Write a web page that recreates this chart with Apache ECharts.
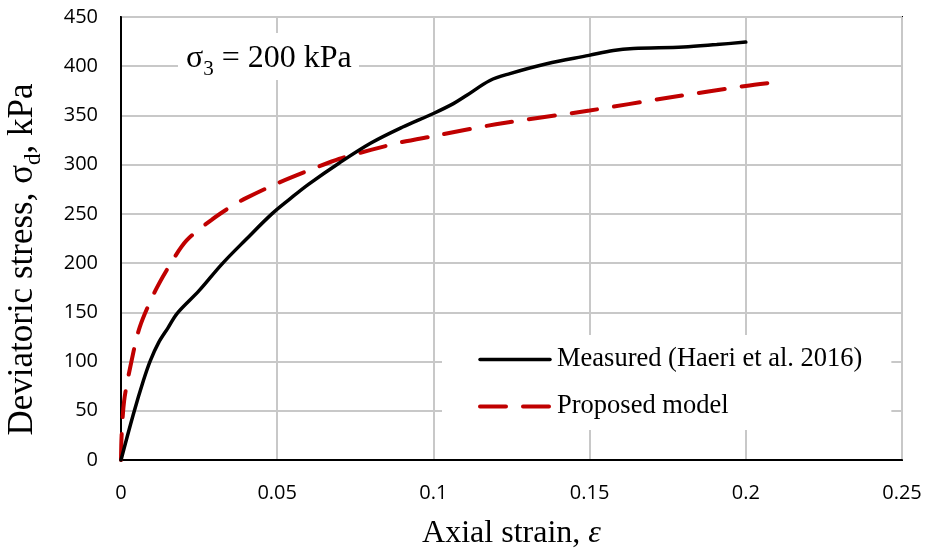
<!DOCTYPE html>
<html>
<head>
<meta charset="utf-8">
<script src="https://cdn.jsdelivr.net/npm/echarts@6/dist/echarts.min.js"></script>
<style>
  html, body { margin: 0; padding: 0; background: #fff; }
  #chart { width: 927px; height: 552px; }
</style>
</head>
<body>
<div id="chart"></div>
<script>
// Axis ticks
const xTickLabels = ['0', '0.05', '0.1', '0.15', '0.2', '0.25'];
const yTickLabels = ['0', '50', '100', '150', '200', '250', '300', '350', '400', '450'];

// Measured triaxial response (Haeri et al. 2016), sigma3 = 200 kPa
const measuredStrain = [0, 0.004, 0.0072, 0.0094, 0.012, 0.015, 0.018, 0.025, 0.0323, 0.04, 0.0483, 0.054, 0.06, 0.07, 0.08, 0.09, 0.1, 0.1064, 0.1107, 0.1181, 0.1245, 0.1363, 0.1498, 0.1576, 0.164, 0.18, 0.1907, 0.2];
const measuredStress = [0, 47, 81, 101, 119, 134, 149, 172, 199, 224, 250, 265, 280, 302, 322, 338, 352, 362, 370.5, 385.5, 392.5, 402.5, 411, 416, 418, 419.5, 422, 424.5];

// Proposed model prediction
const modelStrain = [0, 0.0002, 0.001, 0.003, 0.006, 0.011, 0.016, 0.021, 0.029, 0.036, 0.04, 0.05, 0.06, 0.07, 0.08, 0.09, 0.1, 0.12, 0.15, 0.175, 0.2, 0.21];
const modelStress = [0, 25, 60, 95, 135, 172, 200, 223, 244, 259, 266, 281, 294, 306, 315, 323, 329, 341, 355, 368, 380, 384];

const seriesNames = ['Measured (Haeri et al. 2016)', 'Proposed model'];

const pair = (xs, ys) => xs.map((x, i) => [x, ys[i]]);

const serif = '"Liberation Serif", "Times New Roman", serif';
const sans = '"Open Sans", "Liberation Sans", sans-serif';

const xVals = xTickLabels.map(Number);
const yVals = yTickLabels.map(Number);

const measuredLine = { color: '#000', width: 3.5, cap: 'round' };
const modelLine = { color: '#c00000', width: 4, type: [26, 17], cap: 'round' };

const chart = echarts.init(document.getElementById('chart'), null, { renderer: 'canvas' });

chart.setOption({
  animation: false,
  backgroundColor: '#fff',
  grid: {
    left: 121, top: 17, right: 25, bottom: 92,
    outerBoundsMode: 'none', containLabel: false,
    show: true, borderColor: '#000', borderWidth: 2, backgroundColor: 'transparent'
  },
  xAxis: {
    type: 'value',
    min: xVals[0], max: xVals[xVals.length - 1], interval: xVals[1] - xVals[0],
    axisLine: { show: true, lineStyle: { color: '#000', width: 2 } },
    axisTick: { show: false },
    axisLabel: {
      margin: 23, color: '#000', fontFamily: sans, fontSize: 20,
      formatter: (v) => xTickLabels[Math.round((v - xVals[0]) / (xVals[1] - xVals[0]))] ?? ''
    },
    splitLine: { show: true, lineStyle: { color: '#c8c8c8', width: 2 } },
    name: 'Axial strain, {e|ε}',
    nameLocation: 'middle',
    nameGap: 58,
    nameTextStyle: {
      fontFamily: serif, fontSize: 32, color: '#000',
      rich: { e: { fontFamily: serif, fontSize: 32, fontStyle: 'italic', color: '#000' } }
    }
  },
  yAxis: {
    type: 'value',
    min: yVals[0], max: yVals[yVals.length - 1], interval: yVals[1] - yVals[0],
    axisLine: { show: true, lineStyle: { color: '#000', width: 2 } },
    axisTick: { show: false },
    axisLabel: {
      margin: 23, color: '#000', fontFamily: sans, fontSize: 20,
      formatter: (v) => yTickLabels[Math.round((v - yVals[0]) / (yVals[1] - yVals[0]))] ?? ''
    },
    splitLine: { show: true, lineStyle: { color: '#c8c8c8', width: 2 } },
    name: '{a|Deviatoric stress, σ}{s|d}{a|, kPa}',
    nameLocation: 'middle',
    nameRotate: 90,
    nameGap: 76,
    nameTextStyle: {
      padding: [0, 42, 0, 0],
      rich: {
        a: { fontFamily: serif, fontSize: 35, color: '#000', lineHeight: 44, verticalAlign: 'middle' },
        s: { fontFamily: serif, fontSize: 23, color: '#000', lineHeight: 23, verticalAlign: 'bottom' }
      }
    }
  },
  legend: {
    data: [
      { name: seriesNames[0], lineStyle: measuredLine },
      { name: seriesNames[1], lineStyle: modelLine }
    ],
    orient: 'vertical',
    left: 442, top: 335,
    backgroundColor: '#fff',
    padding: [11, 29, 10, 36],
    itemWidth: 70, itemHeight: 14, itemGap: 20,
    itemStyle: { opacity: 0 },
    textStyle: { fontFamily: serif, fontSize: 26.5, color: '#000', lineHeight: 26, padding: [0, 0, 0, 2] }
  },
  graphic: [
    {
      type: 'rect', z: 100,
      shape: { x: 178, y: 33, width: 181, height: 47 },
      style: { fill: '#fff' }
    },
    {
      type: 'text', z: 101, x: 186, y: 59,
      style: {
        text: '{a|σ}{s|3}{a| = 200 kPa}',
        verticalAlign: 'middle', align: 'left',
        rich: {
          a: { fontFamily: serif, fontSize: 32, fill: '#000', lineHeight: 42, verticalAlign: 'middle' },
          s: { fontFamily: serif, fontSize: 21, fill: '#000', lineHeight: 21, verticalAlign: 'bottom' }
        }
      }
    }
  ],
  series: [
    {
      name: seriesNames[0],
      type: 'line',
      data: pair(measuredStrain, measuredStress),
      smooth: 0.35,
      symbol: 'none',
      lineStyle: measuredLine,
      itemStyle: { color: '#000' },
      z: 5
    },
    {
      name: seriesNames[1],
      type: 'line',
      data: pair(modelStrain, modelStress),
      smooth: 0.3,
      symbol: 'none',
      lineStyle: modelLine,
      itemStyle: { color: '#c00000' },
      z: 4
    }
  ]
});
</script>
</body>
</html>
